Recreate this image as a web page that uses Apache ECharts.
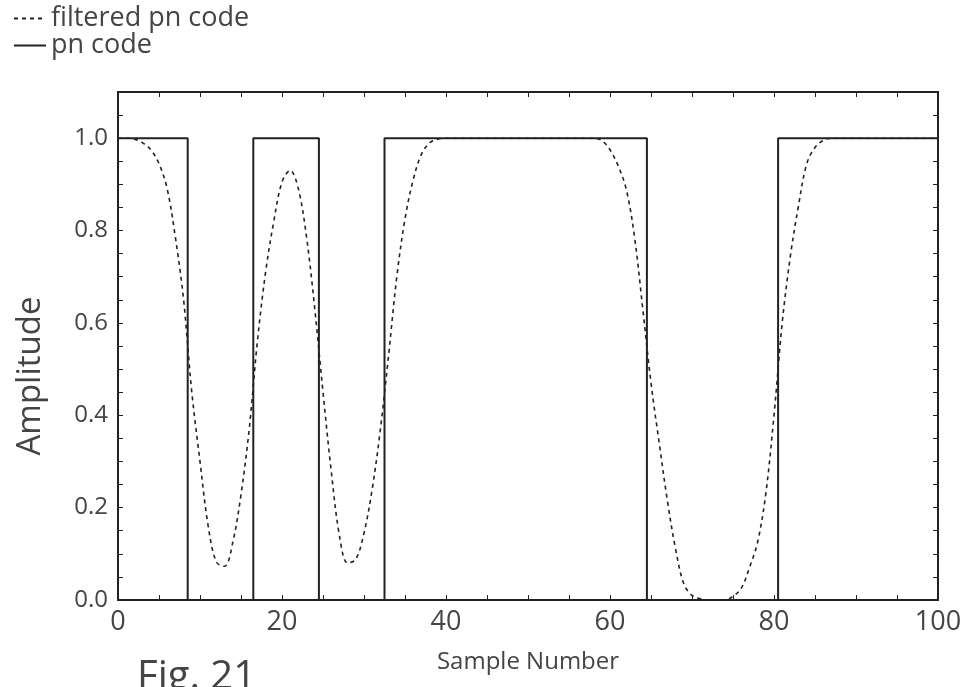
<!DOCTYPE html>
<html>
<head>
<meta charset="utf-8">
<script src="https://cdn.jsdelivr.net/npm/echarts@6/dist/echarts.min.js"></script>
<style>
  html, body { margin: 0; padding: 0; background: #fff; }
  #chart { width: 966px; height: 687px; }
</style>
</head>
<body>
<div id="chart"></div>
<script>
// Sample index (x axis)
const sampleNumbers = [
  0,1,2,3,4,5,6,7,8,9,10,11,12,13,14,15,16,17,18,19,20,
  21,22,23,24,25,26,27,28,29,30,31,32,33,34,35,36,37,38,39,40,
  41,42,43,44,45,46,47,48,49,50,51,52,53,54,55,56,57,58,59,60,
  61,62,63,64,65,66,67,68,69,70,71,72,73,74,75,76,77,78,79,80,
  81,82,83,84,85,86,87,88,89,90,91,92,93,94,95,96,97,98,99,100
];

// Raw pn code, one value per sample
const pnCode = [
  1,1,1,1,1,1,1,1,1,
  0,0,0,0,0,0,0,0,
  1,1,1,1,1,1,1,1,
  0,0,0,0,0,0,0,0,
  1,1,1,1,1,1,1,1,1,1,1,1,1,1,1,1,1,1,1,1,1,1,1,1,1,1,1,1,1,1,1,1,
  0,0,0,0,0,0,0,0,0,0,0,0,0,0,0,0,
  1,1,1,1,1,1,1,1,1,1,1,1,1,1,1,1,1,1,1,1
];

// Pulse-shaped (filtered) pn code, one value per sample
const filteredPnCode = [
  1.000, 1.000, 0.998, 0.990, 0.975, 0.945, 0.890, 0.785, 0.650, 0.450,
  0.300, 0.160, 0.082, 0.073, 0.125, 0.228, 0.370, 0.560, 0.710, 0.820,
  0.905, 0.930, 0.890, 0.785, 0.630, 0.450, 0.280, 0.140, 0.080, 0.088,
  0.145, 0.240, 0.370, 0.530, 0.700, 0.825, 0.910, 0.965, 0.990, 0.998,
  1.000, 1.000, 1.000, 1.000, 1.000, 1.000, 1.000, 1.000, 1.000, 1.000,
  1.000, 1.000, 1.000, 1.000, 1.000, 1.000, 1.000, 1.000, 1.000, 0.995,
  0.975, 0.940, 0.888, 0.785, 0.630, 0.470, 0.340, 0.215, 0.110, 0.035,
  0.010, 0.003, 0.000, 0.000, 0.000, 0.008, 0.025, 0.070, 0.125, 0.230,
  0.400, 0.600, 0.745, 0.855, 0.945, 0.980, 0.995, 1.000, 1.000, 1.000,
  1.000, 1.000, 1.000, 1.000, 1.000, 1.000, 1.000, 1.000, 1.000, 1.000,
  1.000
];

const xTickLabels = ['0', '20', '40', '60', '80', '100'];
const yTickLabels = ['0.0', '0.2', '0.4', '0.6', '0.8', '1.0'];

const FONT = '"Open Sans", "Noto Sans", sans-serif';
const INK = '#222';
const TEXT = '#444';

function pairs(values) {
  return sampleNumbers.map((x, i) => [x, values[i]]);
}

const boxLine = { show: true, onZero: false, lineStyle: { color: INK, width: 2 } };
const innerTick = { show: true, inside: true, length: 5, lineStyle: { color: INK, width: 1 } };

const chart = echarts.init(document.getElementById('chart'), null, { renderer: 'canvas' });

chart.setOption({
  animation: false,
  backgroundColor: '#fff',
  textStyle: { fontFamily: FONT },
  legend: {
    orient: 'vertical',
    left: 13,
    top: 5,
    padding: 0,
    itemWidth: 32,
    itemHeight: 14,
    itemGap: 0,
    itemStyle: { opacity: 0, color: 'transparent', borderWidth: 0 },
    textStyle: { fontFamily: FONT, fontSize: 27, lineHeight: 25, color: TEXT },
    data: ['filtered pn code', 'pn code']
  },
  grid: { left: 118, right: 28, top: 92, bottom: 87, containLabel: false },
  xAxis: [
    {
      type: 'value', min: 0, max: 100, interval: 5,
      name: 'Sample Number', nameLocation: 'middle', nameGap: 50,
      nameTextStyle: { fontFamily: FONT, fontSize: 24, color: TEXT },
      axisLine: boxLine, axisTick: innerTick,
      axisLabel: {
        fontFamily: FONT, fontSize: 27, color: TEXT, margin: 9,
        formatter: v => xTickLabels.includes(String(v)) ? String(v) : ''
      },
      splitLine: { show: false }
    },
    {
      type: 'value', position: 'top', min: 0, max: 100, interval: 5,
      axisLine: boxLine, axisTick: innerTick, axisLabel: { show: false },
      splitLine: { show: false }
    }
  ],
  yAxis: [
    {
      type: 'value', min: 0, max: 1.1, interval: 0.05,
      axisLine: boxLine, axisTick: innerTick,
      axisLabel: {
        fontFamily: FONT, fontSize: 24, color: TEXT, margin: 10,
        formatter: v => {
          const s = v.toFixed(1);
          return (Math.abs(v * 5 - Math.round(v * 5)) < 1e-6 && yTickLabels.includes(s)) ? s : '';
        }
      },
      splitLine: { show: false }
    },
    {
      type: 'value', position: 'right', min: 0, max: 1.1, interval: 0.05,
      axisLine: boxLine, axisTick: innerTick, axisLabel: { show: false },
      splitLine: { show: false }
    }
  ],
  series: [
    {
      name: 'filtered pn code',
      type: 'line',
      data: pairs(filteredPnCode),
      smooth: 0.35,
      symbol: 'none',
      lineStyle: { color: INK, width: 1.6, type: [4, 4] },
      itemStyle: { color: INK },
      z: 3
    },
    {
      name: 'pn code',
      type: 'line',
      data: pairs(pnCode),
      step: 'middle',
      symbol: 'none',
      lineStyle: { color: INK, width: 2 },
      itemStyle: { color: INK },
      z: 2
    }
  ],
  graphic: [
    {
      // y-axis title, set a little below the plot's vertical centre
      type: 'text',
      x: 31,
      y: 376,
      rotation: Math.PI / 2,
      style: {
        text: 'Amplitude', font: '33px ' + FONT, fill: TEXT,
        textAlign: 'center', textVerticalAlign: 'middle'
      }
    },
    {
      type: 'text',
      left: 137,
      top: 658,
      style: { text: 'Fig. 21', font: '40px ' + FONT, fill: TEXT }
    }
  ]
});
</script>
</body>
</html>
